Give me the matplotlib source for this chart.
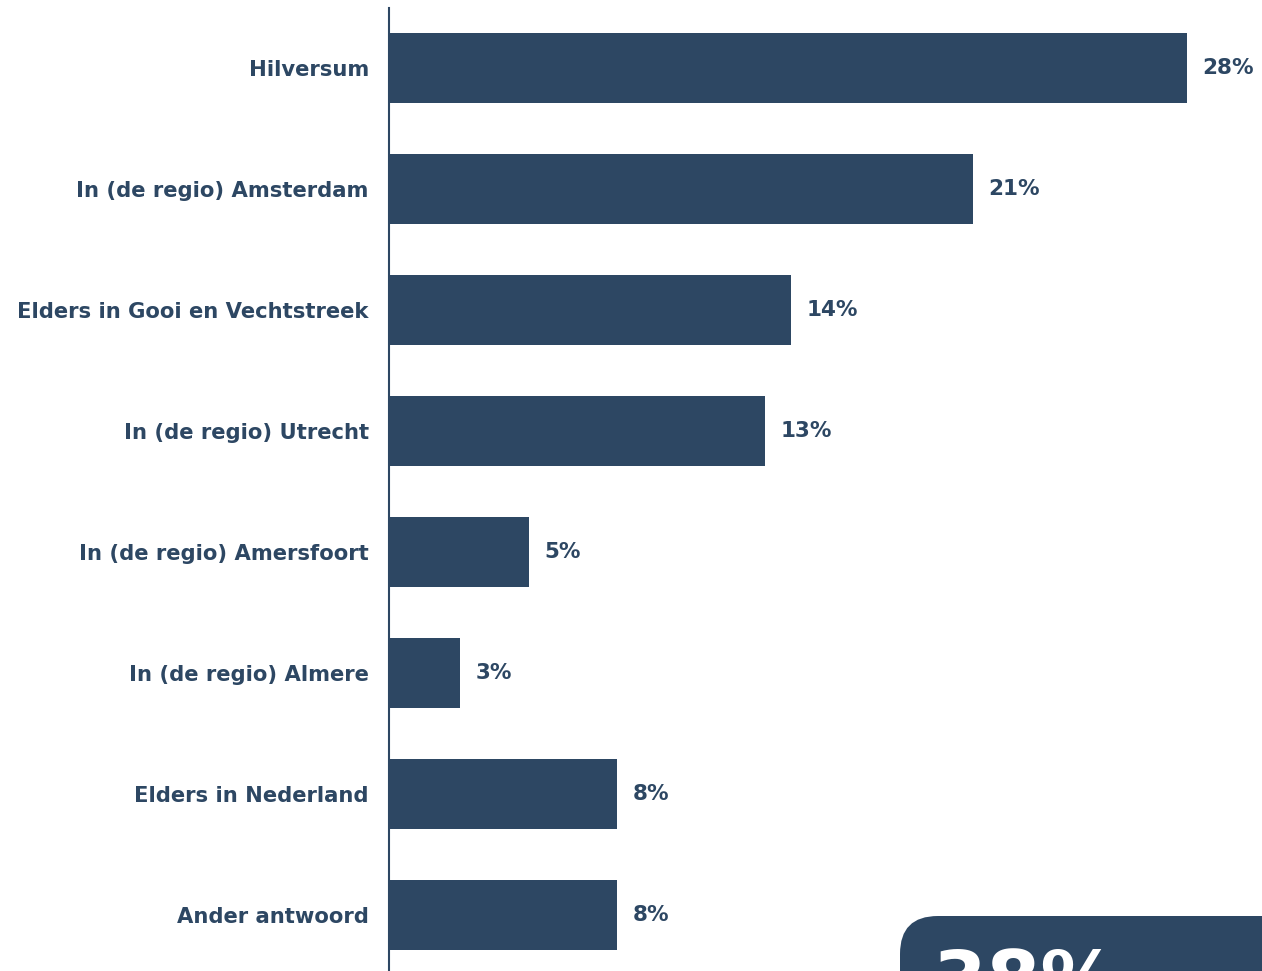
import matplotlib.pyplot as plt
from matplotlib.patches import FancyBboxPatch

categories = [
    "Hilversum",
    "In (de regio) Amsterdam",
    "Elders in Gooi en Vechtstreek",
    "In (de regio) Utrecht",
    "In (de regio) Amersfoort",
    "In (de regio) Almere",
    "Elders in Nederland",
    "Ander antwoord",
]
values = [28.0, 20.5, 14.1, 13.2, 4.9, 2.5, 8.0, 8.0]
value_labels = ["28%", "21%", "14%", "13%", "5%", "3%", "8%", "8%"]
callout_text = "38%"

NAVY = "#2d4763"
W, H = 1262, 971

fig = plt.figure(figsize=(W / 100, H / 100), dpi=100)
ax = fig.add_axes([389 / W, 0, 1 - 389 / W, 1 - 8 / H])

positions = list(range(len(categories)))
ax.barh(positions, values, height=0.58, color=NAVY)

ax.set_xlim(0, (W - 389) / 28.5)
ax.set_ylim(7.463, -0.496)

ax.set_yticks(positions)
ax.set_yticklabels(categories, fontsize=15.2, fontweight="bold", color=NAVY)
ax.tick_params(axis="y", length=0, pad=14.5)
ax.set_xticks([])

for spine in ["top", "right", "bottom"]:
    ax.spines[spine].set_visible(False)
ax.spines["left"].set_color(NAVY)
ax.spines["left"].set_linewidth(1.5)

for pos, val, lab in zip(positions, values, value_labels):
    ax.annotate(
        lab,
        xy=(val, pos),
        xytext=(11, 0),
        textcoords="offset points",
        va="center",
        ha="left",
        fontsize=15.5,
        fontweight="bold",
        color=NAVY,
    )

# callout box, cut off at the bottom right like in the source
box = FancyBboxPatch(
    (900 / W, -0.1),
    0.4,
    0.1 + (H - 916) / H,
    boxstyle="round,pad=0,rounding_size=0.03",
    transform=fig.transFigure,
    facecolor=NAVY,
    edgecolor="none",
    mutation_aspect=W / H,
)
fig.patches.append(box)
fig.text(
    933 / W,
    (H - 947) / H,
    callout_text,
    fontsize=56,
    fontweight="bold",
    color="white",
    va="top",
    ha="left",
)

fig.savefig("out.png", dpi=100)
